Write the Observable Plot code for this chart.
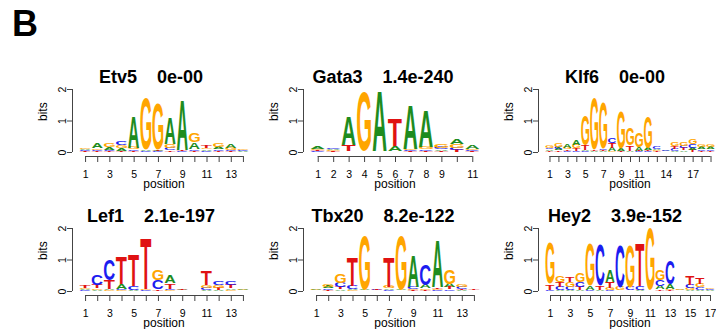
<!DOCTYPE html>
<html><head><meta charset="utf-8">
<script src="https://cdn.jsdelivr.net/npm/d3@7"></script>
<script src="https://cdn.jsdelivr.net/npm/@observablehq/plot@0.6"></script>
<style>
body{margin:0;background:#fff;font-family:"Liberation Sans",Arial,sans-serif;}
#root{position:relative;width:716px;height:329px;overflow:hidden;background:#fff;}
.title{position:absolute;font-weight:bold;font-size:18px;white-space:pre;transform:translateX(-50%);line-height:20px;color:#000;}
.panel{position:absolute;}
.big{position:absolute;left:12px;top:4px;font-weight:bold;font-size:36px;line-height:40px;}
</style></head><body><div id="root"><div class="big">B</div></div>
<script>
const bases = ["A", "C", "G", "T"];
const baseColors = ["#1e8c1e", "#1c1cf0", "#ffa500", "#e01212"];
const motifNames = ["Etv5", "Gata3", "Klf6", "Lef1", "Tbx20", "Hey2"];
const pValues = ["0e-00", "1.4e-240", "0e-00", "2.1e-197", "8.2e-122", "3.9e-152"];
const yTicks = [0, 1, 2];

// tick labels shown under each logo
const etv5Labels = [1, 3, 5, 7, 9, 11, 13];
const gata3Labels = [1, 2, 3, 4, 5, 6, 7, 8, 9, 11];
const klf6Labels = [1, 3, 5, 7, 9, 11, 14, 17];
const lef1Labels = [1, 3, 5, 7, 9, 11, 13];
const tbx20Labels = [1, 3, 5, 7, 9, 11, 13];
const hey2Labels = [1, 3, 5, 7, 9, 11, 13, 15, 17];

// information content (bits) per base and position
const etv5A = [.04, .14, .08, .08, .98, .03, .05, .84, 1.58, .22, .05, .08, .12, .02];
const etv5C = [.03, .04, .04, .12, .05, .02, .02, .09, .02, .05, .03, .05, .04, .02];
const etv5G = [.05, .05, .12, .09, .06, 1.64, 1.46, .11, .01, .30, .05, .13, .06, .02];
const etv5T = [.02, .03, .03, .04, .03, .01, .02, .05, .04, .04, .07, .04, .02, .01];

const gata3A = [.09, .04, .92, .01, 1.88, .17, 1.40, 1.15, .05, .15, .10];
const gata3C = [.03, .05, .01, .01, .01, .01, .03, .05, .06, .08, .03];
const gata3G = [.05, .03, .01, 1.88, .01, .01, .03, .08, .10, .10, .04];
const gata3T = [.03, .02, .20, .01, .01, .85, .02, .03, .03, .06, .02];

const klf6A = [.05, .06, .10, .18, .04, .02, .02, .10, .08, .03, .12, .07, .05, .02, .04, .05, .08, .08, .07];
const klf6C = [.05, .06, .04, .04, .03, .01, .05, .18, .01, .01, .02, .02, .07, .02, .06, .08, .10, .05, .05];
const klf6G = [.08, .10, .06, .12, .95, 1.62, 1.45, .03, 1.17, .55, .46, 1.00, .03, .01, .12, .14, .15, .08, .09];
const klf6T = [.03, .05, .04, .07, .14, .03, .03, .15, .02, .16, .02, .03, .02, .01, .09, .06, .06, .03, .03];

const lef1A = [.03, .03, .03, .15, .02, .01, .01, .25, .02, .01, .03, .04, .05, .04];
const lef1C = [.02, .35, .65, .04, .14, .03, .30, .04, .01, .01, .07, .10, .13, .01];
const lef1G = [.04, .05, .02, .02, .01, .03, .32, .02, .01, .005, .08, .08, .04, .02];
const lef1T = [.06, .12, .28, .88, 1.00, 1.60, .04, .18, .04, .01, .47, .06, .10, .01];

const tbx20A = [.03, .06, .05, .05, .03, .01, .05, .03, 1.00, .10, 1.50, .10, .02, .01];
const tbx20C = [.01, .05, .15, .10, .01, .02, .03, .01, .08, .65, .03, .05, .07, .01];
const tbx20G = [.02, .08, .30, .02, 1.70, .01, .06, 1.72, .04, .05, .04, .45, .08, .01];
const tbx20T = [.01, .03, .06, .90, .01, .02, .95, .01, .02, .03, .05, .07, .03, .03];

const hey2A = [.01, .02, .02, .03, .13, .03, .35, .01, .01, .02, .01, .10, .15, .02, .03, .03, .02];
const hey2C = [.03, .10, .12, .15, .02, 1.30, .02, 1.35, .10, .12, .01, .20, .75, .01, .10, .08, .02];
const hey2G = [1.30, .20, .15, .30, 1.35, .01, .08, .10, 1.35, .02, 1.97, .35, .05, .02, .06, .12, .02];
const hey2T = [.18, .15, .18, .10, .01, .12, .20, .01, .01, 1.35, .01, .05, .02, .01, .30, .20, .01];

const motifHeights = [
  [etv5A, etv5C, etv5G, etv5T],
  [gata3A, gata3C, gata3G, gata3T],
  [klf6A, klf6C, klf6G, klf6T],
  [lef1A, lef1C, lef1G, lef1T],
  [tbx20A, tbx20C, tbx20G, tbx20T],
  [hey2A, hey2C, hey2G, hey2T]
];
const motifLabels = [etv5Labels, gata3Labels, klf6Labels, lef1Labels, tbx20Labels, hey2Labels];

// layout
const colLeft = [0, 231, 466];
const rowTop = [80, 219];
const titleX = [151, 383, 615];
const titleY = [67, 206];
const FONT = "Liberation Sans, Arial, sans-serif";

const canvas = document.createElement("canvas");
const ctx = canvas.getContext("2d");
ctx.font = "bold 100px 'Liberation Sans'";
const metrics = {};
for (const b of bases) {
  const m = ctx.measureText(b);
  metrics[b] = {L: m.actualBoundingBoxLeft, R: m.actualBoundingBoxRight, asc: m.actualBoundingBoxAscent, desc: m.actualBoundingBoxDescent};
}

const root = document.getElementById("root");

motifNames.forEach((name, k) => {
  const col = k % 3, row = Math.floor(k / 3);
  const hs = motifHeights[k];
  const n = hs[0].length;
  const labels = motifLabels[k];
  const rows = [];
  for (let i = 0; i < n; i++) {
    const stack = bases.map((b, j) => ({base: b, color: baseColors[j], h: hs[j][i]})).sort((a, b) => a.h - b.h);
    let y = 0;
    for (const s of stack) {
      rows.push({pos: i + 1, base: s.base, color: s.color, y0: y, y1: y + s.h});
      y += s.h;
    }
  }

  const t = document.createElement("div");
  t.className = "title";
  t.style.left = titleX[col] + "px";
  t.style.top = titleY[row] + "px";
  t.textContent = name + "    " + pValues[k];
  root.appendChild(t);

  const plot = Plot.plot({
    width: 250, height: 115,
    marginLeft: 72, marginRight: 1, marginTop: 9, marginBottom: 39,
    insetLeft: 7, insetBottom: 4,
    x: {domain: [0.5, n + 0.5]},
    y: {domain: [0, 2]},
    color: {type: "identity"},
    style: {fontFamily: FONT, fontSize: "10.5px", color: "#000", background: "transparent", overflow: "visible"},
    marks: [
      Plot.ruleX([0.5], {y1: 0, y2: 2, dx: -7, stroke: "#444"}),
      Plot.axisY({ticks: yTicks, tickSize: 5, tickRotate: -90, tickPadding: 2, label: null, stroke: "#444",
        tickFormat: d => String(d)}),
      Plot.ruleY([0], {x1: 1, x2: n, dy: 4, stroke: "#444"}),
      Plot.axisX({ticks: d3.range(1, n + 1), tickSize: 6, tickPadding: 8, label: null, stroke: "#444",
        tickFormat: d => labels.includes(d) ? String(d) : ""}),
      Plot.text(["bits"], {frameAnchor: "left", dx: -29, dy: -2, rotate: -90, fontSize: 12}),
      Plot.text(["position"], {frameAnchor: "bottom", dx: 3, dy: 31, fontSize: 12}),
      Plot.text(rows, {x: "pos", y: "y0", text: "base", fill: "color", fontSize: 100, fontWeight: "bold", fontFamily: "Liberation Sans"})
    ]
  });

  const div = document.createElement("div");
  div.className = "panel";
  div.style.left = colLeft[col] + "px";
  div.style.top = rowTop[row] + "px";
  div.appendChild(plot);
  root.appendChild(div);

  // stretch each letter into its stacked box using Plot's own scales
  const xs = plot.scale("x"), ys = plot.scale("y");
  const step = xs.apply(2) - xs.apply(1);
  const groups = [...plot.querySelectorAll('g[aria-label="text"]')];
  const g = groups[groups.length - 1];
  g.removeAttribute("transform");
  const texts = g.querySelectorAll("text");
  texts.forEach((el, i) => {
    const r = rows[i];
    const m = metrics[r.base];
    const cx = xs.apply(r.pos);
    const yb = ys.apply(r.y0), yt = ys.apply(r.y1);
    const w = step * 0.9, h = Math.max(0, yb - yt);
    const sx = w / (m.L + m.R), sy = h / (m.asc + m.desc);
    el.removeAttribute("x"); el.removeAttribute("y"); el.removeAttribute("dy");
    el.setAttribute("text-anchor", "start");
    el.setAttribute("font-size", 100);
    el.setAttribute("fill", r.color);
    el.setAttribute("transform", `translate(${cx},${yb}) scale(${sx},${sy}) translate(${-(m.R - m.L) / 2},${-m.desc})`);
  });
});
</script></body></html>
